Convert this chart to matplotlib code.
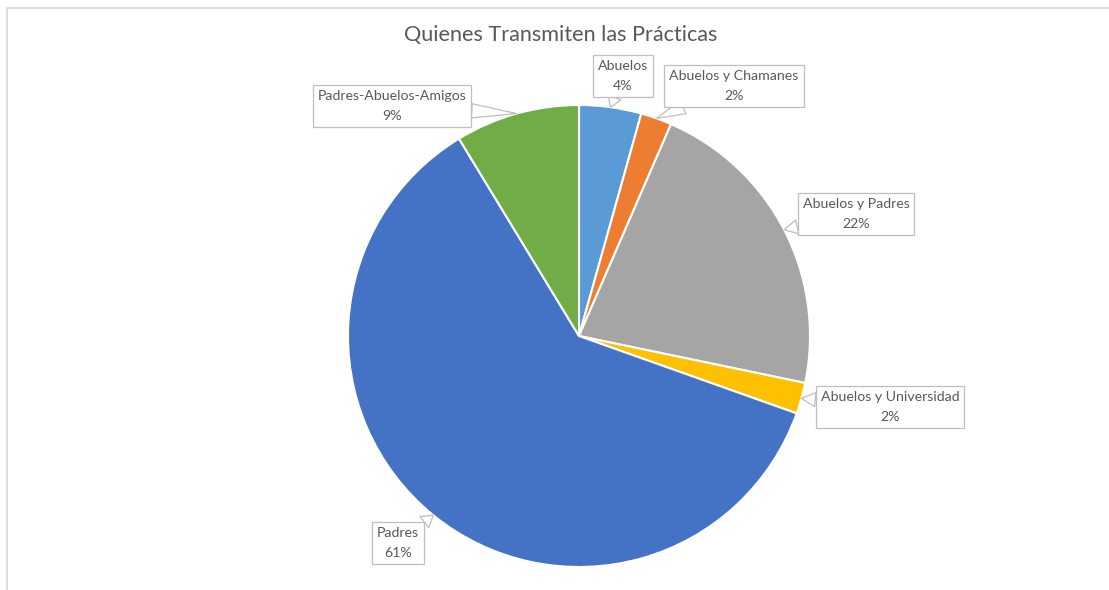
import numpy as np
import matplotlib
matplotlib.use('Agg')
import matplotlib.pyplot as plt

# Data (counts, shown as rounded percentages).
categories = ['Abuelos', 'Abuelos y Chamanes', 'Abuelos y Padres',
              'Abuelos y Universidad', 'Padres', 'Padres-Abuelos-Amigos']
counts = [2, 1, 10, 1, 28, 4]
colors = ['#5B9BD5', '#ED7D31', '#A5A5A5', '#FFC000', '#4472C4', '#70AD47']

# Label box centres in pixel space (x right, y down).
label_pos = [(623, 76), (734, 86), (856, 214), (890, 407), (398, 543), (392, 106)]

W, H = 1109, 590
plt.rcParams['font.family'] = ['Lato', 'DejaVu Sans']
fig = plt.figure(figsize=(W / 100, H / 100), dpi=100)
ax = fig.add_axes([0, 0, 1, 1])

# Chart frame (only top and left edges visible in the crop).
ax.plot([6.5, 6.5, W], [0, H - 7.5, H - 7.5], color='#d9d9d9', lw=1.2)

cx, cy, r = 579, H - 336, 231
wedges, _ = ax.pie(counts, colors=colors, startangle=90, counterclock=False,
                   center=(cx, cy), radius=r, frame=True,
                   wedgeprops=dict(edgecolor='white', linewidth=1.5))
ax.set_xlim(0, W)
ax.set_ylim(0, H)
ax.set_aspect('equal')
ax.axis('off')

total = sum(counts)
for w, name, c, (px, py) in zip(wedges, categories, counts, label_pos):
    mid = np.deg2rad((w.theta1 + w.theta2) / 2)
    anchor = (cx + r * np.cos(mid), cy + r * np.sin(mid))
    ax.annotate(f'{name}\n{c / total * 100:.0f}%', xy=anchor, xytext=(px, H - py),
                ha='center', va='center', fontsize=10.2, color='#595959',
                linespacing=1.75,
                bbox=dict(boxstyle='square,pad=0.35', fc='white', ec='#bfbfbf', lw=0.9),
                arrowprops=dict(arrowstyle='wedge,tail_width=1.0', fc='white',
                                ec='#bfbfbf', lw=0.9, shrinkA=0, shrinkB=0))

ax.text(561, H - 35, 'Quienes Transmiten las Prácticas', ha='center', va='center',
        fontsize=15.6, color='#595959')

fig.savefig('out.png', dpi=100)
